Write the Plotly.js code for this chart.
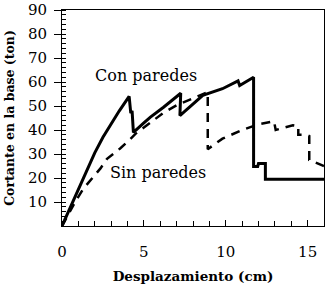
<!DOCTYPE html>
<html>
<head>
<meta charset="utf-8">
<script src="https://cdn.plot.ly/plotly-3.0.1.min.js"></script>
<style>html,body{margin:0;padding:0;background:#fff;}#chart{width:329px;height:288px;}</style>
</head>
<body>
<div id="chart"></div>
<script>
// Con paredes (solid)
const conX = [0, 0.7, 1.3, 2.0, 2.5, 3.0, 3.5, 4.1, 4.2, 4.28, 4.36, 5.0, 5.4, 6.2, 7.25, 7.2, 7.8, 8.6, 9.8, 10.75, 10.85, 11.7, 11.7, 11.95, 12.0, 12.42, 12.42, 16];
const conY = [0, 10.5, 20, 30.5, 37, 42.5, 48, 54, 47, 48, 39, 43, 45.4, 49.5, 55.3, 46, 49.6, 54.4, 57.2, 60.5, 58.5, 62, 24.8, 24.8, 26, 26, 19.5, 19.5];
// Sin paredes (dashed)
const sinX = [0, 0.8, 1.3, 1.75, 2.35, 2.75, 3.55, 4.1, 4.5, 5.0, 5.5, 6.2, 7.0, 8.0, 8.9, 8.9, 9.8, 11.0, 12.0, 12.95, 13.05, 14.1, 14.43, 14.43, 14.95, 15.1, 15.1, 16];
const sinY = [0, 10, 15.5, 19, 24, 28, 32.3, 35.7, 38.5, 41, 43.5, 47.2, 50.3, 53.2, 55.8, 32, 36.4, 40, 42.4, 43.6, 40, 42, 41.6, 38, 38, 37.5, 27.5, 25];
const yTicks = [10, 20, 30, 40, 50, 60, 70, 80, 90];
const xTicks = [0, 5, 10, 15];
const labelCon = "Con paredes";
const labelSin = "Sin paredes";

const serif = "DejaVu Serif";

const data = [
  {x: conX, y: conY, type: 'scatter', mode: 'lines', name: labelCon,
   line: {color: '#000', width: 3}},
  {x: sinX, y: sinY, type: 'scatter', mode: 'lines', name: labelSin,
   line: {color: '#000', width: 2.5, dash: '9px,7px'}}
];

const layout = {
  width: 329, height: 288,
  margin: {l: 61.5, r: 5, t: 9.5, b: 62},
  paper_bgcolor: '#fff', plot_bgcolor: '#fff',
  showlegend: false,
  font: {family: serif, color: '#000', size: 14},
  xaxis: {
    range: [0, 16], showgrid: false, zeroline: false,
    showline: true, mirror: true, linecolor: '#000', linewidth: 1,
    tickvals: xTicks, ticktext: xTicks.map(String),
    ticks: 'inside', ticklen: 6, tickwidth: 1, tickcolor: '#000',
    minor: {dtick: 1, ticks: 'inside', ticklen: 5, tickwidth: 1, tickcolor: '#000'},
    ticklabelstandoff: 12,
    tickfont: {family: serif, size: 15, color: '#000'},
    title: {text: 'Desplazamiento (cm)', font: {family: serif, size: 13.5, color: '#000', weight: 'bold'}, standoff: 11},
    automargin: false, fixedrange: true
  },
  yaxis: {
    range: [0, 90], showgrid: false, zeroline: false,
    showline: true, mirror: true, linecolor: '#000', linewidth: 1,
    tickvals: yTicks, ticktext: yTicks.map(String),
    ticks: 'outside', ticklen: 7, tickwidth: 1, tickcolor: '#000',
    minor: {dtick: 2, ticks: 'inside', ticklen: 4, tickwidth: 1, tickcolor: '#000'},
    ticklabelstandoff: 4,
    tickfont: {family: serif, size: 15, color: '#000'},
    title: {text: 'Cortante en la base (ton)', font: {family: serif, size: 12.5, color: '#000', weight: 'bold'}, standoff: 10},
    automargin: false, fixedrange: true
  },
  annotations: [
    {x: 5.15, y: 62.8, xref: 'x', yref: 'y', text: labelCon, showarrow: false,
     font: {family: serif, size: 16, color: '#000'}},
    {x: 5.85, y: 22.4, xref: 'x', yref: 'y', text: labelSin, showarrow: false,
     font: {family: serif, size: 16, color: '#000'}}
  ]
};

Plotly.newPlot('chart', data, layout, {displayModeBar: false, staticPlot: true});
</script>
</body>
</html>
